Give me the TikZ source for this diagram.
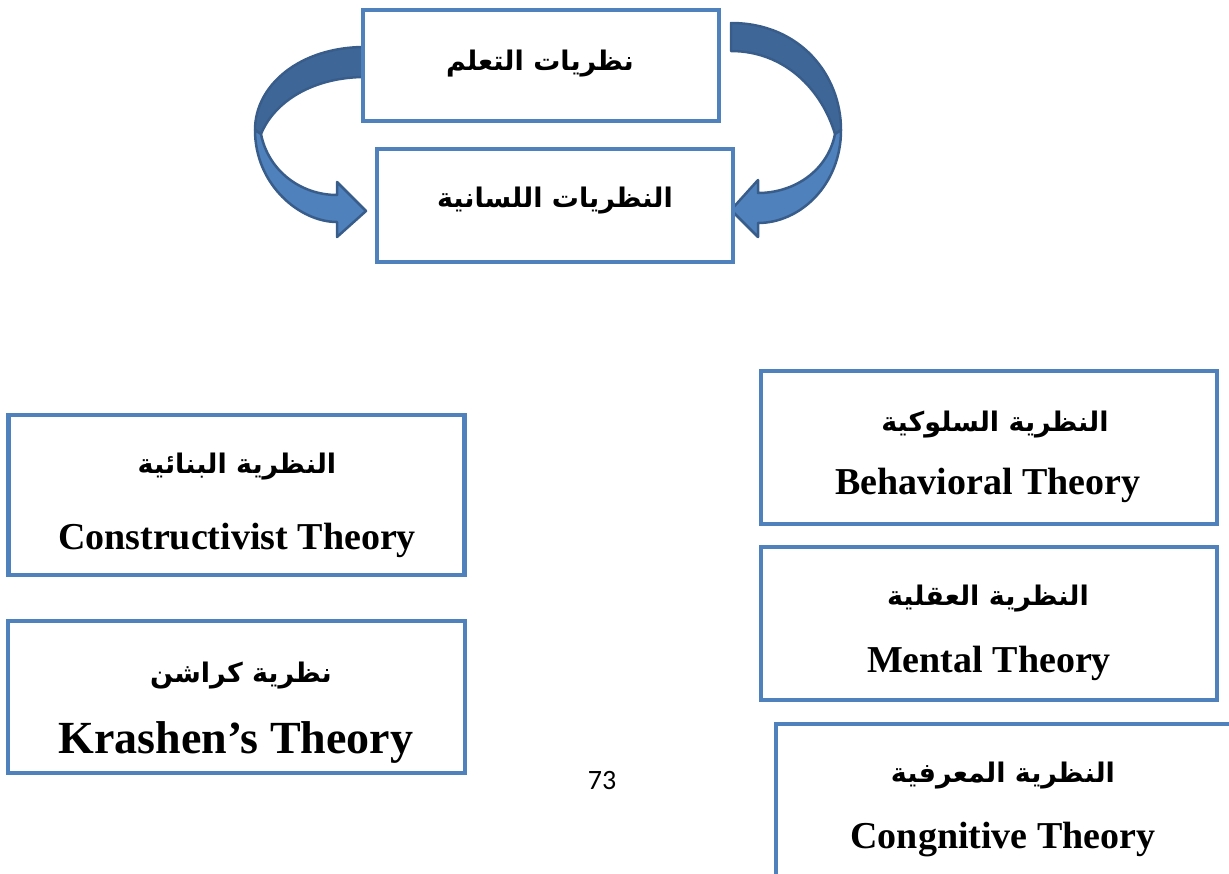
\documentclass[tikz,border=0pt]{standalone}
\usepackage{fontspec}
\usepackage{xcolor}
\setmainfont{Liberation Serif}
\newfontfamily\arabicfont[Script=Arabic]{DejaVu Sans}
\newfontfamily\pagefont{Carlito}
\TeXXeTstate=1
\definecolor{boxblue}{RGB}{79,129,189}
\definecolor{arrowdark}{RGB}{62,103,152}
\definecolor{arrowline}{RGB}{56,93,138}

\begin{document}
\begin{tikzpicture}[x=1pt,y=-1pt]
		\tikzset{box/.style = {draw = boxblue, line width = 4.5pt, fill = white, inner sep = 0pt},
			ar/.style = {anchor = base, font = \arabicfont\bfseries\fontsize{27}{30}\selectfont},
			en/.style = {anchor = base, font = \bfseries\fontsize{38}{40}\selectfont},
			bandtop/.style = {fill = arrowdark, draw = arrowline, line width = 2.5pt, line join = round},
			bandlow/.style = {fill = boxblue, draw = arrowline, line width = 2.5pt, line join = round}}
		\useasboundingbox (0,0) rectangle (1229,873);
		\clip (0,0) rectangle (1229,873);
		% curved arrows between the two top boxes
		\filldraw[bandtop] (365,47) .. controls (300,47) and (255,85) .. (255,130) -- (261,134) .. controls (275,100) and (315,77) .. (365,77) -- cycle;
		\filldraw[bandlow] (255,130) .. controls (255,185) and (300,222) .. (337,222) -- (337,237) -- (366,211) -- (337,182) -- (337,195) .. controls (300,195) and (268,170) .. (261,134) -- cycle;
		\filldraw[bandtop] (731,23) .. controls (800,23) and (841,75) .. (841,130) -- (835,134) .. controls (822,90) and (785,51) .. (731,51) -- cycle;
		\filldraw[bandlow] (841,130) .. controls (841,185) and (800,223) .. (758,223) -- (758,237) -- (731,210) -- (758,180) -- (758,193) .. controls (795,193) and (828,170) .. (835,134) -- cycle;
		% boxes
		\node[box, minimum width = 356pt, minimum height = 111pt] (learn) at (541,65.5){};
		\node[box, minimum width = 356pt, minimum height = 113pt] (ling) at (555,205.5){};
		\node[box, minimum width = 456pt, minimum height = 160pt] (constr) at (236.5,495){};
		\node[box, minimum width = 457pt, minimum height = 152pt] (krash) at (236.5,697){};
		\node[box, minimum width = 456pt, minimum height = 153pt] (behav) at (989,447.5){};
		\node[box, minimum width = 456pt, minimum height = 153pt] (mental) at (989,623.5){};
		\node[box, minimum width = 470pt, minimum height = 200pt] (cogn) at (1011,824){};
		% texts
		\node[ar] (learnAr) at (540,70){\beginR نظريات التعلم\endR};
		\node[ar] (lingAr) at (555,207){\beginR النظريات اللسانية\endR};
		\node[ar] (constrAr) at (237,473){\beginR النظرية البنائية\endR};
		\node[en] (constrEn) at (237,549){Constructivist Theory};
		\node[ar] (krashAr) at (241,682){\beginR نظرية كراشن\endR};
		\node[en, font = \bfseries\fontsize{46}{48}\selectfont] (krashEn) at (236,753){Krashen’s Theory};
		\node[ar] (behavAr) at (995,431){\beginR النظرية السلوكية\endR};
		\node[en] (behavEn) at (988,494){Behavioral Theory};
		\node[ar] (mentalAr) at (988,605){\beginR النظرية العقلية\endR};
		\node[en] (mentalEn) at (989,672){Mental Theory};
		\node[ar] (cognAr) at (1003,782){\beginR النظرية المعرفية\endR};
		\node[en] (cognEn) at (1003,848){Congnitive Theory};
		\node[font = \pagefont\fontsize{28}{30}\selectfont] (page) at (602,780){73};
	\end{tikzpicture}
\end{document}
